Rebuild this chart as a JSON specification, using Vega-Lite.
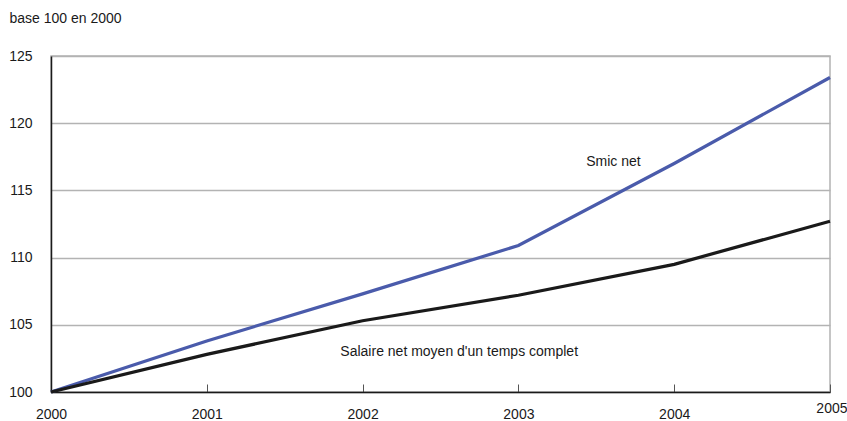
{
  "$schema": "https://vega.github.io/schema/vega-lite/v6.json",
  "autosize": {"type": "none"},
  "width": 779,
  "height": 336,
  "padding": {"left": 51, "top": 56, "right": 17, "bottom": 29},
  "background": "white",
  "config": {
    "view": {"stroke": "#b3b3b3", "strokeWidth": 1.5},
    "font": "Liberation Sans"
  },
  "datasets": {
    "series": [
      {"year": 2000, "value": 100, "serie": "Smic net"},
      {"year": 2001, "value": 103.8, "serie": "Smic net"},
      {"year": 2002, "value": 107.3, "serie": "Smic net"},
      {"year": 2003, "value": 110.9, "serie": "Smic net"},
      {"year": 2004, "value": 117.0, "serie": "Smic net"},
      {"year": 2005, "value": 123.4, "serie": "Smic net"},
      {"year": 2000, "value": 100, "serie": "Salaire"},
      {"year": 2001, "value": 102.8, "serie": "Salaire"},
      {"year": 2002, "value": 105.3, "serie": "Salaire"},
      {"year": 2003, "value": 107.2, "serie": "Salaire"},
      {"year": 2004, "value": 109.5, "serie": "Salaire"},
      {"year": 2005, "value": 112.7, "serie": "Salaire"}
    ],
    "labels": [
      {"year": 2003.61, "value": 117.1, "label": "Smic net"},
      {"year": 2002.62, "value": 102.98, "label": "Salaire net moyen d'un temps complet"}
    ]
  },
  "layer": [
    {
      "data": {"name": "series"},
      "mark": {"type": "line", "strokeWidth": 3.2},
      "encoding": {
        "x": {
          "field": "year", "type": "quantitative",
          "scale": {"domain": [2000, 2005], "nice": false, "zero": false},
          "axis": {
            "title": null, "format": "d", "values": [2000, 2001, 2002, 2003, 2004, 2005],
            "grid": false, "domainColor": "#1a1a1a", "domainWidth": 1.5,
            "tickColor": "#555555", "tickSize": -8, "tickWidth": 1,
            "labelFontSize": 14, "labelColor": "#1a1a1a", "labelFont": "Liberation Sans",
            "labelAlign": {"condition": {"test": "datum.value == 2005", "value": "right"}, "value": "center"},
            "labelPadding": {"condition": {"test": "datum.value == 2005", "value": 17}, "value": 23},
            "labelOffset": {"condition": {"test": "datum.value == 2005", "value": 17}, "value": 0}
          }
        },
        "y": {
          "field": "value", "type": "quantitative",
          "scale": {"domain": [100, 125], "nice": false, "zero": false},
          "axis": {
            "title": "base 100 en 2000", "titleAngle": 0, "titleAlign": "left", "titleBaseline": "middle",
            "titleX": -42, "titleY": -38, "titleFontSize": 14, "titleFontWeight": "normal",
            "titleColor": "#1a1a1a", "titleFont": "Liberation Sans",
            "values": [100, 105, 110, 115, 120, 125],
            "grid": true, "gridColor": "#b3b3b3", "gridWidth": 1.5,
            "ticks": false, "domainColor": "#1a1a1a", "domainWidth": 1.5,
            "labelFontSize": 14, "labelColor": "#1a1a1a", "labelPadding": 19,
            "labelFont": "Liberation Sans"
          }
        },
        "color": {
          "field": "serie", "type": "nominal",
          "scale": {"domain": ["Smic net", "Salaire"], "range": ["#4a5bab", "#1a1a1a"]},
          "legend": null
        }
      }
    },
    {
      "data": {"name": "labels"},
      "mark": {"type": "text", "fontSize": 14, "color": "#1a1a1a", "font": "Liberation Sans"},
      "encoding": {
        "x": {"field": "year", "type": "quantitative"},
        "y": {"field": "value", "type": "quantitative"},
        "text": {"field": "label"}
      }
    }
  ]
}
